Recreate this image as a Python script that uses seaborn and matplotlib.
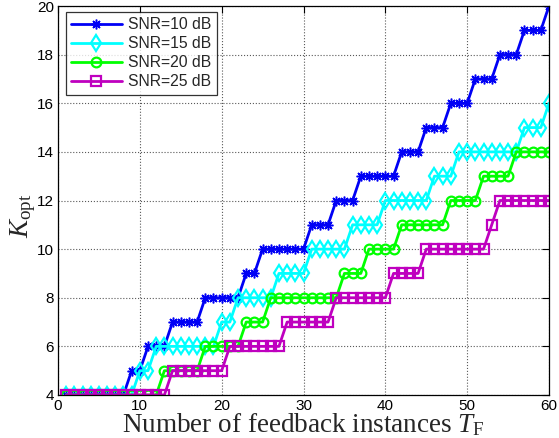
import matplotlib
matplotlib.use("Agg")
import matplotlib.pyplot as plt
import seaborn as sns
import pandas as pd

# ---------------- data ----------------
T_F = list(range(1, 61))
k_snr10 = [4, 4, 4, 4, 4, 4, 4, 4, 5, 5,
           6, 6, 6, 7, 7, 7, 7, 8, 8, 8,
           8, 8, 9, 9, 10, 10, 10, 10, 10, 10,
           11, 11, 11, 12, 12, 12, 13, 13, 13, 13,
           13, 14, 14, 14, 15, 15, 15, 16, 16, 16,
           17, 17, 17, 18, 18, 18, 19, 19, 19, 20]
k_snr15 = [4, 4, 4, 4, 4, 4, 4, 4, 4, 5,
           5, 6, 6, 6, 6, 6, 6, 6, 6, 7,
           7, 8, 8, 8, 8, 8, 9, 9, 9, 9,
           10, 10, 10, 10, 10, 11, 11, 11, 11, 12,
           12, 12, 12, 12, 12, 13, 13, 13, 14, 14,
           14, 14, 14, 14, 14, 14, 15, 15, 15, 16]
k_snr20 = [4, 4, 4, 4, 4, 4, 4, 4, 4, 4,
           4, 4, 5, 5, 5, 5, 5, 6, 6, 6,
           6, 6, 7, 7, 7, 8, 8, 8, 8, 8,
           8, 8, 8, 8, 9, 9, 9, 10, 10, 10,
           10, 11, 11, 11, 11, 11, 11, 12, 12, 12,
           12, 13, 13, 13, 13, 14, 14, 14, 14, 14]
k_snr25 = [4, 4, 4, 4, 4, 4, 4, 4, 4, 4,
           4, 4, 4, 5, 5, 5, 5, 5, 5, 5,
           6, 6, 6, 6, 6, 6, 6, 7, 7, 7,
           7, 7, 7, 8, 8, 8, 8, 8, 8, 8,
           9, 9, 9, 9, 10, 10, 10, 10, 10, 10,
           10, 10, 11, 12, 12, 12, 12, 12, 12, 12]
series_labels = ["SNR=10 dB", "SNR=15 dB", "SNR=20 dB", "SNR=25 dB"]
x_ticks = [0, 10, 20, 30, 40, 50, 60]
y_ticks = [4, 6, 8, 10, 12, 14, 16, 18, 20]

# ---------------- style ----------------
sns.set_theme(style="white")
plt.rcParams["font.family"] = ["Liberation Sans", "DejaVu Sans"]
plt.rcParams["mathtext.fontset"] = "custom"
plt.rcParams["mathtext.rm"] = "Liberation Serif"
plt.rcParams["mathtext.it"] = "Liberation Serif:italic"

colors = ["#0000F5", "#00FFFF", "#00FF00", "#BF00BF"]
markers = [(8, 2, 0), "d", "o", "s"]
msizes = [7, 8.5, 7, 7]
mews = [1.1, 1.6, 1.6, 1.6]

df = pd.DataFrame({
    "T": T_F * 4,
    "K": k_snr10 + k_snr15 + k_snr20 + k_snr25,
    "SNR": sum([[lab] * len(T_F) for lab in series_labels], []),
})

fig = plt.figure(figsize=(5.59, 4.38), dpi=100)
ax = fig.add_axes([58 / 559, 1 - 395 / 438, 491 / 559, 389 / 438])

for lab, c, m, ms, mw in zip(series_labels, colors, markers, msizes, mews):
    sub = df[df["SNR"] == lab]
    sns.lineplot(data=sub, x="T", y="K", ax=ax, color=c, linewidth=2.0,
                 marker=m, markersize=ms, markerfacecolor="none",
                 markeredgecolor=c, markeredgewidth=mw, label=lab,
                 errorbar=None, sort=False)

ax.set_xlim(0, 60)
ax.set_ylim(4, 20)
ax.set_xticks(x_ticks)
ax.set_yticks(y_ticks)
ax.tick_params(direction="in", length=5, width=0.8, top=True, right=True,
               labelsize=11, pad=3, colors="black")
ax.grid(True, linestyle=":", color="0.35", linewidth=0.8)
for sp in ax.spines.values():
    sp.set_color("black")
    sp.set_linewidth(0.9)

ax.set_xlabel(r"Number of feedback instances $T_{\mathrm{F}}$",
              fontsize=19.5, family="Liberation Serif")
ax.xaxis.set_label_coords(0.5, -0.042)
ax.set_ylabel(r"$K_{\mathrm{opt}}$", fontsize=19.5)
ax.yaxis.set_label_coords(-0.04, 0.46)

leg = ax.legend(loc="upper left", bbox_to_anchor=(0.016, 0.985),
                fontsize=11.3, frameon=True, fancybox=False,
                handlelength=3.2, handletextpad=0.4, labelspacing=0.25,
                borderpad=0.35, borderaxespad=0.0)
leg.get_frame().set_edgecolor("black")
leg.get_frame().set_linewidth(0.9)
for h in leg.get_lines():
    h.set_markevery([1])

fig.savefig("out.png", dpi=100)
